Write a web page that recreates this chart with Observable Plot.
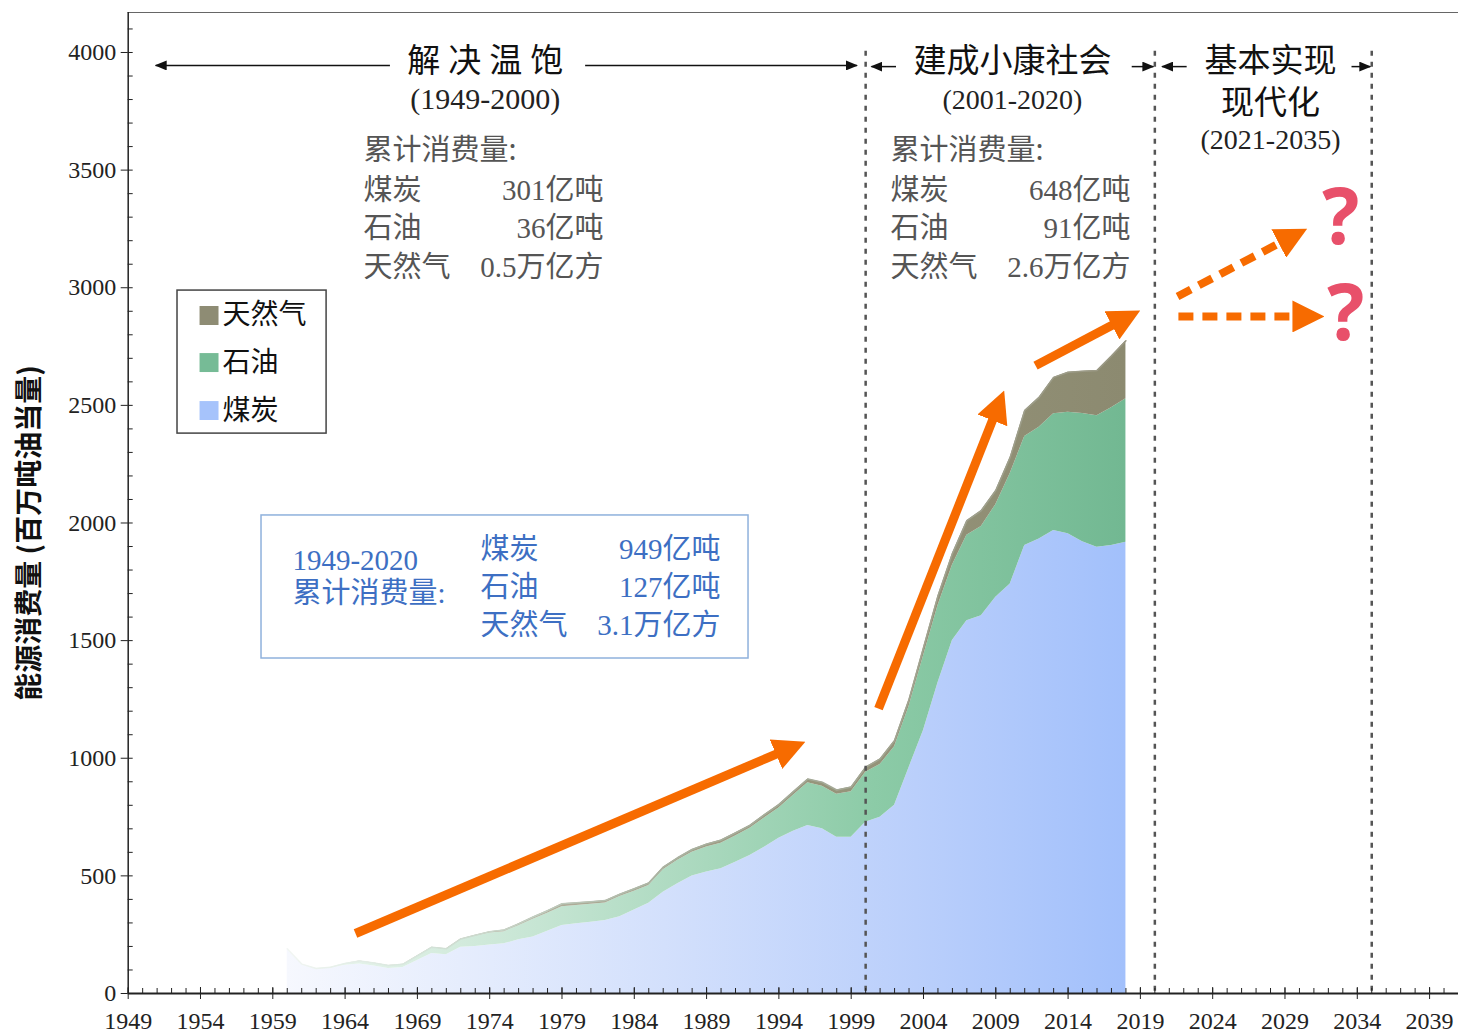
<!DOCTYPE html>
<html><head><meta charset="utf-8">
<script src="https://cdn.jsdelivr.net/npm/d3@7"></script>
<script src="https://cdn.jsdelivr.net/npm/@observablehq/plot@0.6"></script>
<style>body{margin:0;background:#fff;}#chart{width:1458px;height:1035px;}</style>
</head><body><div id="chart"></div>
<script>
// ---- data (million tonnes oil equivalent) ----
const years = [1960,1961,1962,1963,1964,1965,1966,1967,1968,1969,1970,1971,1972,1973,1974,1975,1976,1977,1978,1979,1980,1981,1982,1983,1984,1985,1986,1987,1988,1989,1990,1991,1992,1993,1994,1995,1996,1997,1998,1999,2000,2001,2002,2003,2004,2005,2006,2007,2008,2009,2010,2011,2012,2013,2014,2015,2016,2017,2018];
const coal = [190,125,104,108,120,125,117,106,110,140,170,165,197,200,206,211,228,240,265,289,296,303,310,326,355,384,430,466,499,516,530,558,587,622,660,690,714,700,664,664,728,749,800,960,1118,1320,1500,1585,1606,1684,1741,1904,1932,1968,1954,1920,1897,1904,1918];
const oil = [0,0,2,4,7,12,12,12,13,18,24,22,31,43,51,52,60,76,76,80,78,76,75,86,80,75,96,100,101,107,109,112,115,124,129,153,182,181,183,194,212,224,249,260,317,328,320,363,379,394,469,464,475,496,517,545,559,586,610];
const gas = [0,0,0,0,1,1,1,1,1,2,3,3,4,5,6,7,8,9,11,12,12,11,10,10,10,11,11,11,12,12,13,13,13,14,14,15,16,17,18,20,22,24,26,30,35,42,50,62,68,60,70,110,127,155,170,180,192,220,247];
const types = ["煤炭","石油","天然气"];
const legendTypes = ["天然气","石油","煤炭"];
const legendColors = ["#8e8c74","#76bb96","#a6c3fb"];

// axis ticks
const yMajor = [0,500,1000,1500,2000,2500,3000,3500,4000];
const xMajor = [1949,1954,1959,1964,1969,1974,1979,1984,1989,1994,1999,2004,2009,2014,2019,2024,2029,2034,2039];

// period boundaries
const periodLines = [2000, 2020, 2035];

// annotation texts (positions in data units: year, value)
const headers = [
  {x:1973.7, y:3960, t:"解决温饱"},
  {x:2010.15, y:3960, t:"建成小康社会"},
  {x:2028.0, y:3960, t:"基本实现"},
  {x:2028.0, y:3785, t:"现代化"}
];
const headerYears = [
  {x:1973.7, y:3800, t:"(1949-2000)", s:30},
  {x:2010.15, y:3800, t:"(2001-2020)", s:28},
  {x:2028.0, y:3630, t:"(2021-2035)", s:28}
];
const blackArrows = [
  {x1:1967.1, x2:1950.9, y:3945},
  {x1:1980.6, x2:1999.4, y:3945},
  {x1:2002.1, x2:2000.4, y:3940},
  {x1:2018.4, x2:2019.9, y:3940},
  {x1:2022.2, x2:2020.5, y:3940},
  {x1:2033.6, x2:2034.9, y:3940}
];
const grayLabels = [
  {x:1965.27, y:3583, t:"累计消费量:"},
  {x:1965.27, y:3413, t:"煤炭"},
  {x:1965.27, y:3252, t:"石油"},
  {x:1965.27, y:3086, t:"天然气"},
  {x:2001.72, y:3583, t:"累计消费量:"},
  {x:2001.72, y:3413, t:"煤炭"},
  {x:2001.72, y:3252, t:"石油"},
  {x:2001.72, y:3086, t:"天然气"}
];
const grayValues = [
  {x:1981.87, y:3413, t:"301亿吨"},
  {x:1981.87, y:3252, t:"36亿吨"},
  {x:1981.87, y:3086, t:"0.5万亿方"},
  {x:2018.32, y:3413, t:"648亿吨"},
  {x:2018.32, y:3252, t:"91亿吨"},
  {x:2018.32, y:3086, t:"2.6万亿方"}
];
const blueBox = [{x1:1958.22, x2:1991.9, y1:1424, y2:2032}];
const blueLeft = [
  {x:1960.36, y:1841, t:"1949-2020"},
  {x:1960.36, y:1700, t:"累计消费量:"},
  {x:1973.36, y:1887, t:"煤炭"},
  {x:1973.36, y:1726, t:"石油"},
  {x:1973.36, y:1564, t:"天然气"}
];
const blueRight = [
  {x:1989.96, y:1887, t:"949亿吨"},
  {x:1989.96, y:1726, t:"127亿吨"},
  {x:1989.96, y:1564, t:"3.1万亿方"}
];
const legendBox = [{x1:1952.41, x2:1962.72, y1:2380, y2:2988}];
const legendY = [2882, 2682, 2478];
const solidArrows = [
  {x1:1964.72, y1:255, x2:1994.18, y2:1027},
  {x1:2000.89, y1:1211, x2:2008.92, y2:2460},
  {x1:2011.75, y1:2669, x2:2017.40, y2:2852}
];
const dashedArrows = [
  {x1:2021.57, y1:2963, x2:2028.94, y2:3200},
  {x1:2021.63, y1:2878, x2:2029.93, y2:2878}
];
const questions = [
  {x:2032.84, y:3294},
  {x:2033.2, y:2882}
];

// ---- build tidy rows ----
const series = [coal, oil, gas];
const rows = [];
types.forEach((t, k) => years.forEach((yr, i) => rows.push({year: yr, type: t, value: series[k][i]})));
const totals = years.map((yr, i) => ({year: yr, total: coal[i] + oil[i] + gas[i]}));
const legendRows = legendTypes.map((t, i) => ({t, y: legendY[i], c: legendColors[i]}));

const CJK = "Noto Sans CJK SC";
const MIX = "'Liberation Serif', 'Noto Sans CJK SC'";
const YMAX = 4170;

const plot = Plot.plot({
  width: 1458, height: 1035,
  marginLeft: 127.7, marginRight: 0, marginTop: 12, marginBottom: 42,
  x: {domain: [1949, 2041]},
  y: {domain: [0, YMAX]},
  color: {domain: types, range: ["url(#gCoal)", "url(#gOil)", "url(#gGas)"]},
  style: {fontFamily: "Liberation Serif", fontSize: "24px", color: "#222", background: "white"},
  marks: [
    Plot.areaY(rows, {x: "year", y: "value", z: "type", fill: "type"}),
    Plot.lineY(totals, {x: "year", y: "total", stroke: "url(#gLine)", strokeWidth: 1.5}),
    // period dotted lines
    Plot.ruleX(periodLines, {y1: 4005, y2: 0, stroke: "#555", strokeWidth: 2.5, strokeDasharray: "5,6"}),
    // frame lines
    Plot.ruleY([YMAX], {stroke: "#666", strokeWidth: 1}),
    Plot.ruleX([1949], {stroke: "#222", strokeWidth: 1.5}),
    Plot.ruleY([0], {stroke: "#222", strokeWidth: 2}),
    // axes
    Plot.axisY({ticks: yMajor, tickSize: 7, tickPadding: 5, tickFormat: d => String(d), fontSize: 24, label: null}),
    Plot.axisY({ticks: d3.range(0, 4101, 100), tickSize: 5, dx: 5, tickFormat: () => "", label: null}),
    Plot.axisX({ticks: xMajor, tickSize: 6, tickPadding: 12, tickFormat: d => String(d), fontSize: 24, label: null}),
    Plot.axisX({ticks: xMajor, tickSize: 6, dy: -6, tickFormat: () => "", label: null}),
    Plot.axisX({ticks: d3.range(1949, 2042, 1), tickSize: 5, dy: -5, tickFormat: () => "", label: null}),
    // y label
    Plot.text(["能源消费量 (百万吨油当量)"], {frameAnchor: "left", textAnchor: "middle", rotate: -90, dx: -98, dy: 30, fontSize: 28, fontWeight: "bold", fontFamily: CJK, fill: "#111"}),
    // headers
    Plot.text(headers, {x: "x", y: "y", text: "t", fontSize: 33, fontFamily: CJK, fill: "#111", textAnchor: "middle", lineAnchor: "middle"}),
    Plot.text(headerYears, {x: "x", y: "y", text: "t", fontSize: "s", fill: "#222", lineAnchor: "middle"}),
    Plot.link(blackArrows, {x1: "x1", x2: "x2", y1: "y", y2: "y", stroke: "#111", strokeWidth: 1.5, ariaDescription: "barrow"}),
    // gray cumulative texts
    Plot.text(grayLabels, {x: "x", y: "y", text: "t", fontSize: 29, fontFamily: CJK, fill: "#555", textAnchor: "start", lineAnchor: "middle"}),
    Plot.text(grayValues, {x: "x", y: "y", text: "t", fontSize: 29, fontFamily: MIX, fill: "#555", textAnchor: "end", lineAnchor: "middle"}),
    // blue box
    Plot.rect(blueBox, {x1: "x1", x2: "x2", y1: "y1", y2: "y2", fill: "white", fillOpacity: 0, stroke: "#8fb1dc", strokeWidth: 1.5}),
    Plot.text(blueLeft, {x: "x", y: "y", text: "t", fontSize: 29, fontFamily: MIX, fill: "#3d6fc3", textAnchor: "start", lineAnchor: "middle"}),
    Plot.text(blueRight, {x: "x", y: "y", text: "t", fontSize: 29, fontFamily: MIX, fill: "#3d6fc3", textAnchor: "end", lineAnchor: "middle"}),
    // legend
    Plot.rect(legendBox, {x1: "x1", x2: "x2", y1: "y1", y2: "y2", fill: "white", stroke: "#444", strokeWidth: 1.5}),
    Plot.dot(legendRows, {x: 1954.59, y: "y", symbol: "square", r: 10.7, fill: "c", stroke: null}),
    Plot.text(legendRows, {x: 1955.52, y: "y", text: "t", fontSize: 28, fontFamily: CJK, fill: "#111", textAnchor: "start", lineAnchor: "middle"}),
    // orange arrows
    Plot.link(solidArrows, {x1: "x1", y1: "y1", x2: "x2", y2: "y2", stroke: "#f76b00", strokeWidth: 9, ariaDescription: "oarrow"}),
    Plot.link(dashedArrows, {x1: "x1", y1: "y1", x2: "x2", y2: "y2", stroke: "#f76b00", strokeWidth: 8, strokeDasharray: "15,9", ariaDescription: "oarrow"}),
    Plot.text(questions, {x: "x", y: "y", text: () => "?", fontSize: 78, fontWeight: "bold", fontFamily: "Noto Sans", fill: "#e8506a", lineAnchor: "middle"})
  ]
});

// gradients & markers
const svg = d3.select(plot);
const defs = svg.insert("defs", ":first-child");
const xs = plot.scale("x");
function grad(id, stops) {
  const g = defs.append("linearGradient").attr("id", id).attr("gradientUnits", "userSpaceOnUse")
    .attr("x1", xs.apply(1960)).attr("x2", xs.apply(2018)).attr("y1", 0).attr("y2", 0);
  stops.forEach(([o, c]) => g.append("stop").attr("offset", o).attr("stop-color", c));
}
grad("gCoal", [[0, "#f6f8fe"], [0.45, "#d3e0fc"], [0.75, "#bacffb"], [1, "#a2c0fb"]]);
grad("gOil", [[0, "#eef7f1"], [0.3, "#c6e5d3"], [0.7, "#8ccba7"], [1, "#72b892"]]);
grad("gGas", [[0, "#c9c8ba"], [0.6, "#97967c"], [1, "#8c8a70"]]);
grad("gLine", [[0, "#f2f6f3"], [0.15, "#d6e6dc"], [0.45, "#aab3a2"], [1, "#9a9884"]]);

const om = defs.append("marker").attr("id", "oHead").attr("markerUnits", "userSpaceOnUse")
  .attr("viewBox", "0 -16 32 32").attr("markerWidth", 32).attr("markerHeight", 32)
  .attr("refX", 6).attr("refY", 0).attr("orient", "auto");
om.append("path").attr("d", "M0,-16L32,0L0,16Z").attr("fill", "#f76b00");
const bm = defs.append("marker").attr("id", "bHead").attr("markerUnits", "userSpaceOnUse")
  .attr("viewBox", "0 -5 12 10").attr("markerWidth", 12).attr("markerHeight", 10)
  .attr("refX", 11).attr("refY", 0).attr("orient", "auto");
bm.append("path").attr("d", "M0,-5L12,0L0,5Z").attr("fill", "#111");

svg.selectAll("g[aria-description='oarrow'] path").attr("marker-end", "url(#oHead)").attr("stroke-linecap", "butt");
svg.selectAll("g[aria-description='barrow'] path").attr("marker-end", "url(#bHead)");
svg.selectAll("text").filter(function() { return this.textContent === "解决温饱"; })
  .attr("letter-spacing", "8px").attr("dx", "4");

document.getElementById("chart").appendChild(plot);
</script>
</body></html>
